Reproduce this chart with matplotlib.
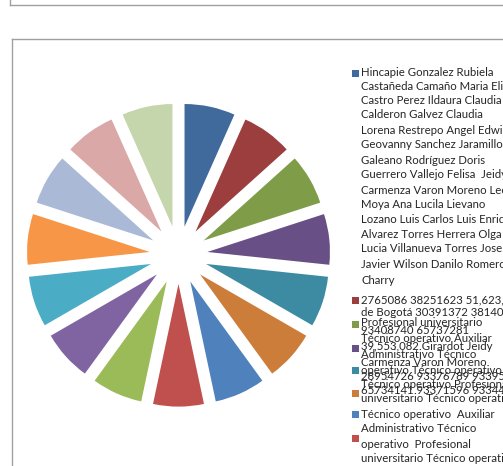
import matplotlib
matplotlib.use("Agg")
import matplotlib.pyplot as plt
from matplotlib.patches import Rectangle
from matplotlib.lines import Line2D

W, H = 503, 466
DPI = 100

# ---- data ----
slice_values = [1] * 15
slice_colors = ["#3F6A9B", "#9C3E3D", "#7F9D48", "#684F86", "#3C8BA2", "#CC7D3A",
                "#4F81BD", "#C0504D", "#9BBB59", "#8064A2", "#4BACC6", "#F79646",
                "#A9B9D6", "#D9A8A7", "#C6D6AC"]

legend_lines = [
    "Hincapie Gonzalez Rubiela",
    "Castañeda Camaño Maria Eli",
    "Castro Perez Ildaura Claudia",
    "Calderon Galvez Claudia",
    "Lorena Restrepo Angel Edwin",
    "Geovanny Sanchez Jaramillo",
    "Galeano Rodríguez Doris",
    "Guerrero Vallejo Felisa  Jeidy",
    "Carmenza Varon Moreno Leo",
    "Moya Ana Lucila Lievano",
    "Lozano Luis Carlos Luis Enriq",
    "Alvarez Torres Herrera Olga",
    "Lucia Villanueva Torres Jose",
    "Javier Wilson Danilo Romero",
    "Charry",
    "2765086 38251623 51,623,3",
    "de Bogotá 30391372 381401",
    "Profesional universitario",
    "93408740 65737281",
    "Técnico operativo Auxiliar",
    "39,553,082 Girardot Jeidy",
    "Administrativo Técnico",
    "Carmenza Varon Moreno",
    "operativo Técnico operativo",
    "28954726 93376789 933959",
    "Técnico operativo Profesiona",
    "65734141 93371596 933445",
    "universitario Técnico operati",
    "Técnico operativo  Auxiliar",
    "Administrativo Técnico",
    "operativo  Profesional",
    "universitario Técnico operati",
]
legend_line_y = [73, 87, 101, 115, 130, 145, 160, 175, 190, 205, 219, 234, 249, 264, 281,
                 300, 313, 323, 330, 338, 347, 354, 362, 370, 377, 384, 391, 398,
                 414, 429, 444, 458]
marker_colors = ["#3F6A9B", "#9C3E3D", "#7F9D48", "#684F86", "#3C8BA2", "#CC7D3A",
                 "#4F81BD", "#C0504D"]
marker_y = [73, 300, 324, 348, 370, 393, 414, 438]

fig = plt.figure(figsize=(W / DPI, H / DPI), dpi=DPI)
fig.patch.set_facecolor("white")

# frames
def px_line(x0, y0, x1, y1, c="#a0a0a0", lw=1.0):
    fig.add_artist(Line2D([x0 / W, x1 / W], [1 - y0 / H, 1 - y1 / H],
                          transform=fig.transFigure, color=c, lw=lw))

px_line(10, 0, 10, 4.7)
px_line(10, 4.7, W, 4.7)
px_line(12.3, 38.7, 12.3, H)
px_line(12.3, 38.7, W, 38.7)

# pie
r_px = 122.6
cx, cy = 178.5, 255
half = 160
ax = fig.add_axes([(cx - half) / W, (H - cy - half) / H, 2 * half / W, 2 * half / H])
ax.pie(slice_values, colors=slice_colors, startangle=90, counterclock=False,
       explode=[29 / r_px] * len(slice_values), wedgeprops=dict(linewidth=0))
lim = half / r_px
ax.set_xlim(-lim, lim)
ax.set_ylim(-lim, lim)
ax.set_aspect("equal")
ax.axis("off")

# legend
for txt, y in zip(legend_lines, legend_line_y):
    fig.text(361 / W, 1 - y / H, txt, fontsize=8.2, family="Lato", color="#262626",
             va="center", ha="left")
for c, y in zip(marker_colors, marker_y):
    fig.add_artist(Rectangle((352 / W, 1 - (y + 3.5) / H), 7 / W, 7 / H,
                             transform=fig.transFigure, facecolor=c, edgecolor="none"))

fig.savefig("out.png", dpi=DPI)
